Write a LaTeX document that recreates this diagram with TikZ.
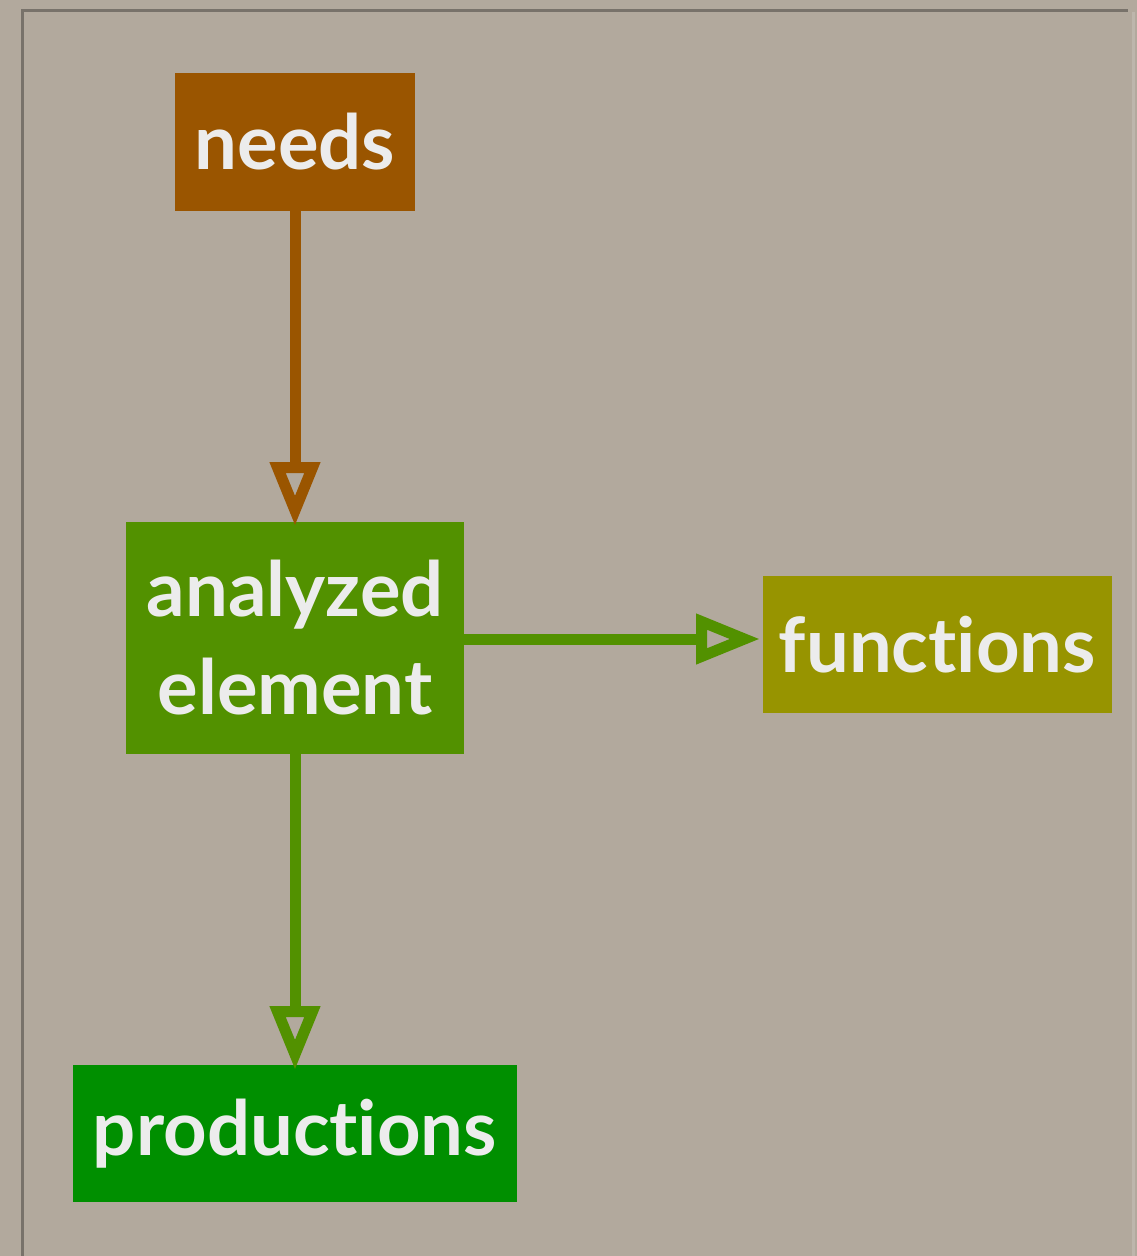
\documentclass[tikz,border=0pt]{standalone}
\usepackage{fontspec}
\setmainfont{Lato}[UprightFont=* Bold, Ligatures=NoCommon]
\usetikzlibrary{arrows.meta}
\definecolor{bg}{RGB}{178,169,157}
\definecolor{frameline}{RGB}{120,114,106}
\definecolor{needsc}{RGB}{154,85,0}
\definecolor{anac}{RGB}{82,145,0}
\definecolor{funcc}{RGB}{151,148,0}
\definecolor{prodc}{RGB}{0,143,0}
\definecolor{txt}{RGB}{236,236,236}
\tikzset{
  box/.style={inner sep=0pt, outer sep=0pt, text=txt, font=\fontsize{76}{98}\selectfont, align=center, anchor=center},
  conn/.style={line width=11pt, -{Triangle[open, length=64pt, width=48pt, line width=11pt]}},
}
\begin{document}
\begin{tikzpicture}[x=1pt,y=-1pt]
\useasboundingbox (0,0) rectangle (1137,1256);
\fill[bg] (0,0) rectangle (1137,1256);
\draw[frameline, line width=3pt] (22,1256) -- (22,10) -- (1128,10);
\draw[bg!85!white, line width=3pt] (1133,12) -- (1133,1256);
% boxes
\fill[needsc] (175,73) rectangle (415,211);
\fill[anac] (126,522) rectangle (464,754);
\fill[funcc] (763,576) rectangle (1112,713);
\fill[prodc] (73,1065) rectangle (517,1202);
\node[box, minimum width=240pt, minimum height=138pt] (needs) at (295,142) {needs};
\node[box, minimum width=338pt, minimum height=232pt] (ana) at (295,638) {analyzed\\element};
\node[box, minimum width=349pt, minimum height=137pt] (func) at (937.5,644.5) {functions};
\node[box, minimum width=444pt, minimum height=137pt] (prod) at (295,1133.5) {productions};
% connectors
\draw[conn, needsc] (needs.south) -- ([yshift=-4pt]ana.north);
\draw[conn, anac] (ana.east |- 0,639) coordinate (ae) -- ([xshift=-3pt]func.west |- ae);
\draw[conn, anac] (ana.south) -- ([yshift=-5pt]prod.north);
\end{tikzpicture}
\end{document}
